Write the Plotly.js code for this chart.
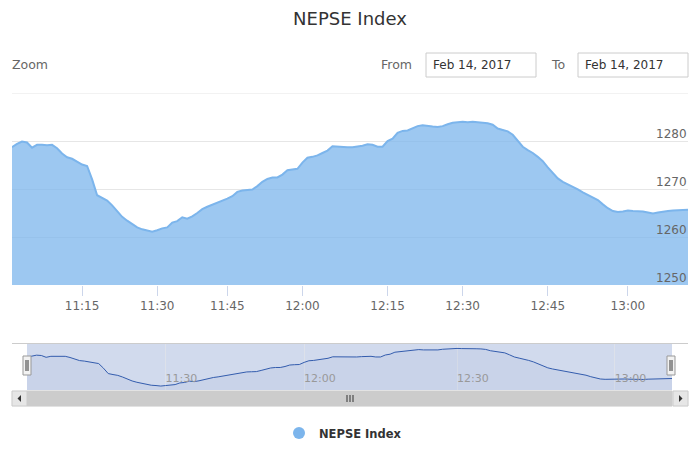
<!DOCTYPE html>
<html>
<head>
<meta charset="utf-8">
<script src="https://cdn.plot.ly/plotly-3.0.1.min.js"></script>
<style>html,body{margin:0;padding:0;background:#fff;}#chart{width:700px;height:467px;}</style>
</head>
<body>
<div id="chart"></div>
<script>
// ---- data ----
const chartTitle = "NEPSE Index";
const seriesName = "NEPSE Index";
const dateFrom = "Feb 14, 2017";
const dateTo = "Feb 14, 2017";

const times = [
"11:01:00","11:02:00","11:03:00","11:04:00","11:05:00","11:06:00","11:07:00","11:08:00","11:09:00","11:10:00",
"11:11:00","11:12:00","11:13:00","11:14:00","11:15:00","11:16:00","11:17:00","11:18:00","11:19:00","11:20:00",
"11:21:00","11:22:00","11:23:00","11:24:00","11:25:00","11:26:00","11:27:00","11:28:00","11:29:00","11:30:00",
"11:31:00","11:32:00","11:33:00","11:34:00","11:35:00","11:36:00","11:37:00","11:39:00","11:40:00","11:41:00",
"11:42:00","11:43:00","11:44:00","11:45:00","11:46:00","11:47:00","11:48:00","11:49:00","11:50:00","11:51:00",
"11:52:00","11:53:00","11:54:00","11:55:00","11:56:00","11:57:00","11:58:00","11:59:00","12:00:00","12:01:00",
"12:02:00","12:03:00","12:04:00","12:04:30","12:05:00","12:06:00","12:07:00","12:08:00","12:09:00","12:10:00",
"12:10:30","12:11:00","12:12:00","12:13:00","12:14:00","12:15:00","12:16:00","12:17:00","12:18:00","12:19:00",
"12:20:00","12:21:00","12:22:00","12:23:00","12:24:00","12:25:00","12:26:00","12:27:00","12:28:00","12:29:00",
"12:30:00","12:31:00","12:32:00","12:33:00","12:34:00","12:35:00","12:35:30","12:36:00","12:37:00","12:38:00",
"12:39:00","12:40:00","12:41:00","12:41:30","12:42:00","12:43:00","12:44:00","12:45:00","12:46:00","12:47:00",
"12:48:00","12:49:00","12:50:00","12:51:00","12:52:00","12:52:30","12:53:00","12:54:00","12:55:00","12:56:00",
"12:57:00","12:58:00","12:59:00","13:00:00","13:01:00","13:02:00","13:03:00","13:04:00","13:05:00","13:06:00",
"13:07:00","13:08:00","13:09:00","13:10:00","13:11:00","13:12:00"
];

const values = [
1278.7,1279.4,1279.9,1279.7,1278.6,1279.2,1279.2,1279.1,1279.2,1278.5,
1277.4,1276.6,1276.3,1275.7,1275.1,1274.8,1272.0,1268.7,1268.1,1267.6,
1266.6,1265.3,1264.2,1263.4,1262.7,1262.0,1261.6,1261.4,1261.1,1261.4,
1261.8,1262.0,1263.0,1263.3,1264.1,1263.8,1264.3,1265.0,1265.8,1266.3,
1266.7,1267.2,1267.6,1268.0,1268.5,1269.4,1269.7,1269.8,1269.9,1270.6,
1271.5,1272.1,1272.4,1272.4,1273.0,1273.9,1274.1,1274.2,1275.5,1276.5,
1276.7,1277.0,1277.5,1278.0,1278.9,1278.8,1278.7,1278.7,1278.7,1278.8,
1279.0,1279.3,1279.2,1278.8,1278.8,1280.0,1280.5,1281.7,1282.1,1282.2,
1282.7,1283.1,1283.3,1283.1,1283.0,1282.9,1283.1,1283.5,1283.8,1283.9,
1284.0,1283.9,1284.0,1283.9,1283.8,1283.7,1283.4,1282.6,1282.3,1282.0,
1281.3,1280.1,1278.8,1278.1,1277.5,1276.7,1275.8,1274.5,1273.3,1272.2,
1271.5,1271.0,1270.4,1269.9,1269.3,1268.8,1268.3,1267.7,1266.8,1266.0,
1265.4,1265.2,1265.3,1265.5,1265.4,1265.4,1265.3,1265.1,1264.9,1265.1,
1265.3,1265.4,1265.5,1265.6,1265.6,1265.7
];

const mainTickVals = ["11:15:00","11:30:00","11:45:00","12:00:00","12:15:00","12:30:00","12:45:00","13:00:00"];
const mainTickText = ["11:15","11:30","11:45","12:00","12:15","12:30","12:45","13:00"];
const navTickVals = ["11:30:00","12:00:00","12:30:00","13:00:00"];
const navTickText = ["11:30","12:00","12:30","13:00"];
const yTickVals = [1250,1260,1270,1280,1290];
const yLabelVals = [1250,1260,1270,1280];
const yRange = [1250,1290];
const navYRange = [1258.7,1287];

// ---- helpers (pixel -> paper) ----
const W = 700, H = 467;
const px = v => v / W;
const py = v => 1 - v / H;
const FONT = "DejaVu Sans, Verdana, sans-serif";

const mainTrace = {
  type: "scatter", mode: "lines", x: times, y: values,
  xaxis: "x", yaxis: "y",
  line: {color: "#7cb5ec", width: 2},
  fill: "tozeroy", fillcolor: "rgba(124,181,236,0.75)",
  showlegend: false, hoverinfo: "skip"
};
const navTrace = {
  type: "scatter", mode: "lines", x: times, y: values,
  xaxis: "x2", yaxis: "y2",
  line: {color: "#335cad", width: 1},
  fill: "tozeroy", fillcolor: "rgba(51,92,173,0.05)",
  showlegend: false, hoverinfo: "skip"
};
const legendTrace = {
  type: "scatter", mode: "markers", x: [null], y: [null],
  xaxis: "x", yaxis: "y",
  marker: {color: "#7cb5ec", size: 12, symbol: "circle"},
  name: seriesName, showlegend: true, hoverinfo: "skip"
};

function rect(x0, y0, x1, y1, fill, line, lw) {
  return {type: "rect", xref: "paper", yref: "paper", x0: px(x0), x1: px(x1), y0: py(y1), y1: py(y0),
    fillcolor: fill, line: {color: line, width: lw === undefined ? 1 : lw}, layer: "above"};
}
function seg(x0, y0, x1, y1, color, w) {
  return {type: "line", xref: "paper", yref: "paper", x0: px(x0), x1: px(x1), y0: py(y0), y1: py(y1),
    line: {color: color, width: w || 1}, layer: "above"};
}
function tri(pts, color) {
  const d = "M" + pts.map(p => px(p[0]) + "," + py(p[1])).join(" L") + " Z";
  return {type: "path", xref: "paper", yref: "paper", path: d, fillcolor: color, line: {color: color, width: 0}, layer: "above"};
}

const shapes = [
  // navigator mask (selected range = whole navigator)
  {type: "rect", xref: "paper", yref: "paper", x0: px(27), x1: px(672), y0: py(390), y1: py(343.5),
   fillcolor: "rgba(102,133,194,0.3)", line: {width: 0}, layer: "below"},
  // top gridline (1290) of the main plot
  {type: "line", xref: "paper", yref: "y", x0: px(12), x1: px(688), y0: yTickVals[4], y1: yTickVals[4],
   line: {color: "#e6e6e6", width: 1}, layer: "below"},
  // navigator outline
  seg(12, 343.5, 688, 343.5, "#cccccc", 1),
  // scrollbar track, bar, buttons
  rect(12, 391, 688, 406, "#f2f2f2", "#f2f2f2"),
  rect(27, 391, 672, 406, "#cccccc", "#cccccc"),
  rect(12, 391, 27, 406, "#e6e6e6", "#cccccc"),
  rect(673, 391, 688, 406, "#e6e6e6", "#cccccc"),
  tri([[21, 395], [21, 402], [17.5, 398.5]], "#333333"),
  tri([[679, 395], [679, 402], [682.5, 398.5]], "#333333"),
  seg(347, 395, 347, 402, "#333333", 1),
  seg(350, 395, 350, 402, "#333333", 1),
  seg(353, 395, 353, 402, "#333333", 1),
  // navigator handles
  rect(23, 356, 31, 375, "#f2f2f2", "#999999"),
  seg(26, 360, 26, 371, "#333333", 1),
  seg(28, 360, 28, 371, "#333333", 1),
  rect(667, 356, 675, 375, "#f2f2f2", "#999999"),
  seg(670, 360, 670, 371, "#333333", 1),
  seg(672, 360, 672, 371, "#333333", 1),
  // range selector inputs
  rect(426, 53, 536, 77, "#ffffff", "#cccccc"),
  rect(578, 53, 688, 77, "#ffffff", "#cccccc")
];

function txt(text, x, y, anchor, size, color) {
  return {text: text, xref: "paper", yref: "paper", x: px(x), y: py(y), xanchor: anchor, yanchor: "middle",
    showarrow: false, font: {family: FONT, size: size, color: color}};
}
const annotations = [
  txt("Zoom", 10, 65, "left", 12.5, "#666666"),
  txt("From", 379, 64, "left", 12.5, "#666666"),
  txt("To", 549, 64, "left", 12.5, "#666666"),
  txt(dateFrom, 431, 65, "left", 12, "#333333"),
  txt(dateTo, 583, 65, "left", 12, "#333333")
];
// y-axis labels, placed on the y scale just above their gridlines (Highcharts style)
yLabelVals.forEach(v => {
  annotations.push({text: String(v), xref: "paper", yref: "y", x: px(689), y: v, yshift: 7,
    xanchor: "right", yanchor: "middle", showarrow: false,
    font: {family: FONT, size: 12, color: "#666666"}});
});

const layout = {
  width: W, height: H, autosize: false,
  margin: {l: 0, r: 0, t: 0, b: 0, pad: 0},
  paper_bgcolor: "#ffffff", plot_bgcolor: "rgba(0,0,0,0)",
  font: {family: FONT, color: "#666666"},
  title: {text: chartTitle, x: 0.5, xanchor: "center", y: py(19), yanchor: "middle",
          font: {family: FONT, size: 18, color: "#333333"}},
  xaxis: {
    type: "category", domain: [px(12), px(688)], anchor: "y", range: [0, times.length - 1],
    tickmode: "array", tickvals: mainTickVals, ticktext: mainTickText,
    ticks: "outside", ticklen: 10, tickwidth: 1, tickcolor: "#ccd6eb",
    showgrid: false, zeroline: false, showline: false,
    tickfont: {family: FONT, size: 12, color: "#666666"}, fixedrange: true
  },
  yaxis: {
    domain: [py(285), py(93)], anchor: "x", side: "right", range: yRange,
    tickmode: "array", tickvals: yTickVals, showticklabels: false, ticks: "",
    showgrid: true, gridcolor: "#e6e6e6", gridwidth: 1, zeroline: false, showline: false,
    fixedrange: true
  },
  xaxis2: {
    type: "category", domain: [px(27), px(672)], anchor: "y2", range: [0, times.length - 1],
    tickmode: "array", tickvals: navTickVals, ticktext: navTickText,
    ticks: "", ticklabelposition: "inside right",
    showgrid: true, gridcolor: "#dde1ea", zeroline: false, showline: false,
    tickfont: {family: FONT, size: 11, color: "#999999"}, fixedrange: true
  },
  yaxis2: {
    domain: [py(390), py(343.5)], anchor: "x2", range: navYRange,
    showticklabels: false, showgrid: false, zeroline: false, showline: false, ticks: "", fixedrange: true
  },
  showlegend: true,
  legend: {orientation: "h", x: px(343), xanchor: "center", y: py(433), yanchor: "middle",
           font: {family: FONT, size: 11.5, color: "#333333", weight: 700},
           bgcolor: "rgba(0,0,0,0)", itemclick: false, itemdoubleclick: false},
  shapes: shapes,
  annotations: annotations,
  hovermode: false
};

Plotly.newPlot("chart", [mainTrace, navTrace, legendTrace], layout, {displayModeBar: false, staticPlot: true});
</script>
</body>
</html>
